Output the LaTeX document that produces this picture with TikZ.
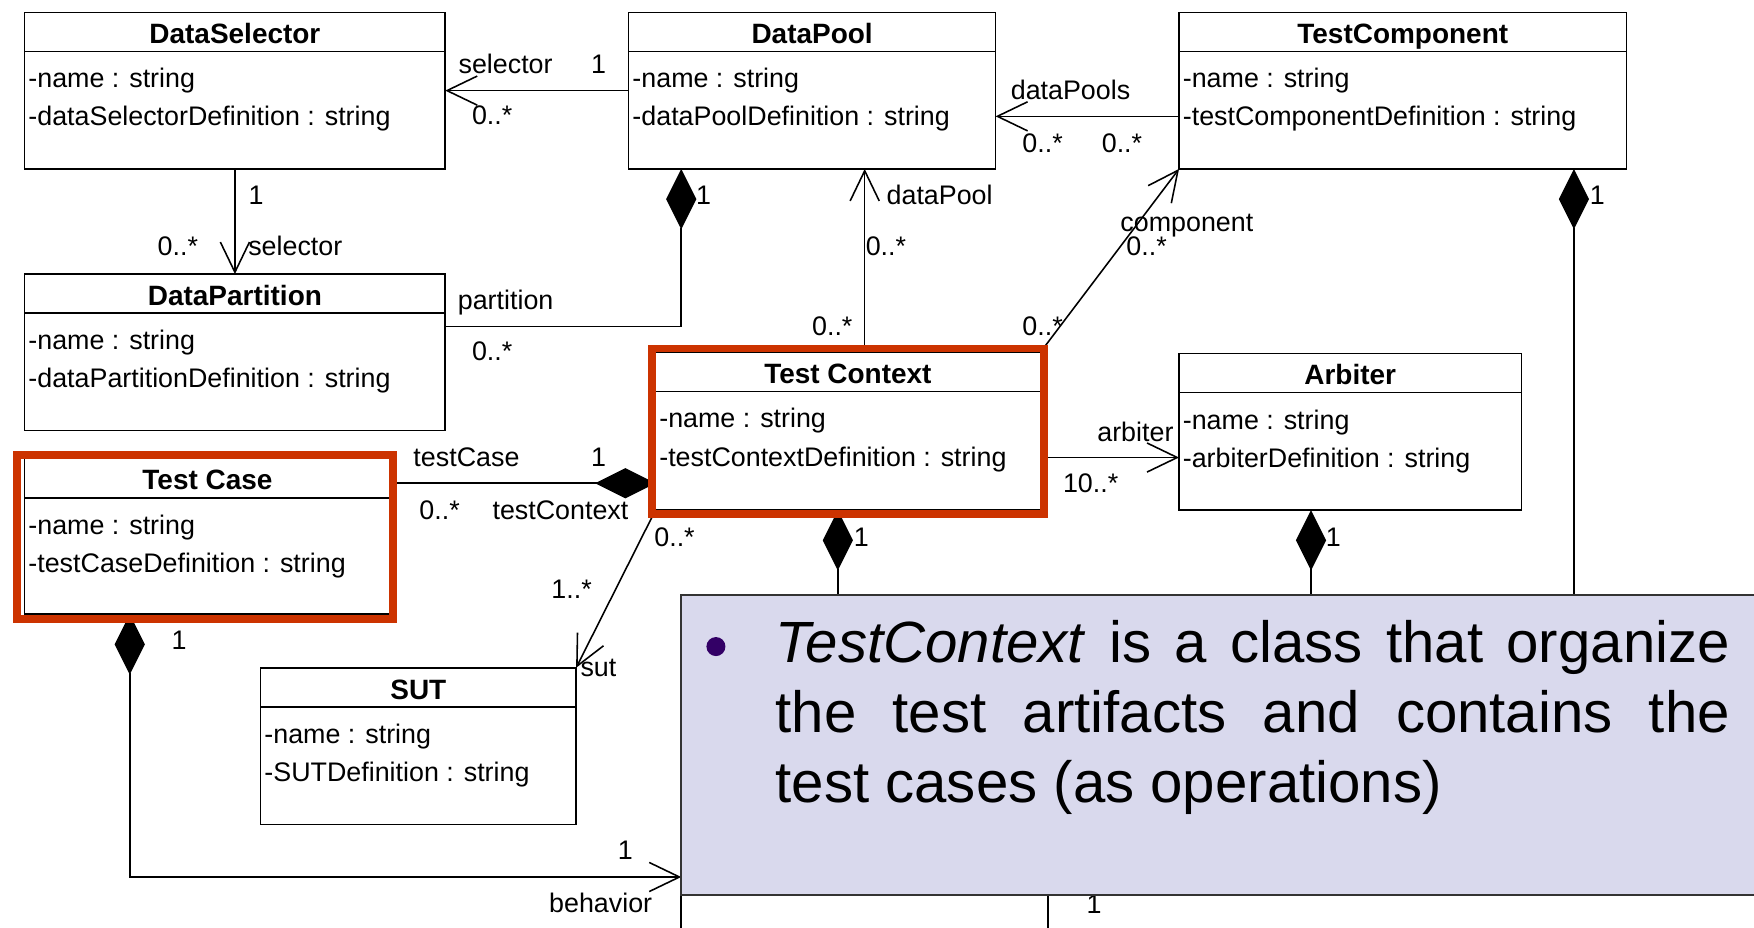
\documentclass[tikz,border=0pt]{standalone}
\usepackage{fontspec}
\setmainfont{Liberation Sans}
\usetikzlibrary{arrows.meta,calc,fit}

\definecolor{framered}{RGB}{204,51,0}
\definecolor{notefill}{RGB}{217,217,237}
\definecolor{bulletpurple}{RGB}{51,0,102}

\tikzset{
  classbox/.style={draw, line width=0.7pt, inner sep=0pt, outer sep=0pt, fill=white},
  classline/.style={line width=0.7pt},
  classtitle/.style={font=\bfseries\fontsize{12.5}{14}\selectfont, inner sep=0pt, text height=9pt, text depth=0pt},
  classattr/.style={font=\fontsize{12}{14}\selectfont, anchor=west, inner sep=0pt, text height=8.6pt, text depth=0pt},
  mult/.style={font=\fontsize{12}{14}\selectfont, inner sep=0pt, text height=8.6pt, text depth=0pt},
  assoc/.style={draw, line width=0.7pt},
  navi/.style={-{Straight Barb[length=13.5pt,width=13pt]}},
  compo/.style={{Diamond[length=27pt,width=13.5pt]}-},
  componavi/.style={{Diamond[length=27pt,width=13.5pt]}-{Straight Barb[length=13.5pt,width=13pt]}},
  redframe/.style={draw=framered, line width=3.5pt},
  notebox/.style={draw=black!80, line width=0.7pt, fill=notefill, inner sep=0pt, outer sep=0pt},
  notetext/.style={text width=426.5pt, align=justify, inner sep=0pt, font=\fontsize{26}{31.25}\selectfont},
}

% UML class: name, left, top, right, bottom, title, first attribute, second attribute
\newcommand{\umlclass}[8]{%
  \node[classbox, fit={(#2,#3) (#4,#5)}] (#1) {};
  \draw[classline] ($(#1.north west)+(0,35)$) -- ($(#1.north east)+(0,35)$);
  \node[classtitle] (#1-title) at ($(#1.north)+(0,19)$) {#6};
  \node[classattr] (#1-a) at ($(#1.north west)+(3,59)$) {#7};
  \node[classattr] (#1-b) at ($(#1.north west)+(3,93)$) {#8};
}

\begin{document}
\begin{tikzpicture}[x=0.5pt, y=-0.5pt]
  \useasboundingbox (0,0) rectangle (1568,829);
  \fill[white] (0,0) rectangle (1568,829);

  % classes
  \umlclass{ds}{22}{11}{398}{151}{DataSelector}{-name : string}{-dataSelectorDefinition : string}
  \umlclass{dp}{562}{11}{890}{151}{DataPool}{-name : string}{-dataPoolDefinition : string}
  \umlclass{tcomp}{1054}{11}{1454}{151}{TestComponent}{-name : string}{-testComponentDefinition : string}
  \umlclass{dpart}{22}{245}{398}{385}{DataPartition}{-name : string}{-dataPartitionDefinition : string}
  \umlclass{tcx}{586}{315}{930}{456}{Test Context}{-name : string}{-testContextDefinition : string}
  \umlclass{arb}{1054}{316}{1360}{456}{Arbiter}{-name : string}{-arbiterDefinition : string}
  \umlclass{tcase}{22}{410}{349}{549}{Test Case}{-name : string}{-testCaseDefinition : string}
  \umlclass{sut}{233}{597}{515}{737}{SUT}{-name : string}{-SUTDefinition : string}
  \node[classbox, fit={(609,560) (937,900)}] (bh) {};

  % free ends of the compositions that run under the note
  \coordinate (tcompdown) at (1407,600);
  \coordinate (arbdown) at (1172,600);

  % associations
  \draw[assoc, navi] (dp.west) -- (ds.east);
  \draw[assoc, navi] (ds.south) -- (dpart.north);
  \draw[assoc, compo] ($(dp.south west)+(47,0)$) |- ($(dpart.north east)+(0,47)$);
  \draw[assoc, navi] ($(tcomp.north west)+(0,93)$) -- ($(dp.north east)+(0,93)$);
  \draw[assoc, navi] ($(tcx.north west)+(187,0)$) -- ($(dp.south west)+(211,0)$);
  \draw[assoc, navi] (tcx.north east) -- (tcomp.south west);
  \draw[assoc, compo] ($(tcomp.south west)+(353,0)$) -- (tcompdown);
  \draw[assoc, navi] ($(tcx.north east)+(0,94)$) -- ($(arb.north west)+(0,93)$);
  \draw[assoc, compo] ($(arb.south west)+(118,0)$) -- (arbdown);
  \draw[assoc, compo] ($(tcx.south west)+(163,0)$) -- ($(bh.north west)+(140,0)$);
  \draw[assoc, compo] ($(tcx.north west)+(0,117)$) -- ($(tcase.north east)+(0,22)$);
  \draw[assoc, navi] (tcx.south west) -- (sut.north east);
  \draw[assoc, componavi] ($(tcase.south west)+(94,0)$) |- ($(bh.north west)+(0,224)$);

  % highlight frames
  \draw[redframe] ($(tcx.north west)+(-3.5,-3.5)$) rectangle ($(tcx.south east)+(3.5,3.5)$);
  \draw[redframe] ($(tcase.north west)+(-6.5,-3.5)$) rectangle ($(tcase.south east)+(2.5,4.5)$);

  % role names and multiplicities
  \node[mult] (m1) at (452,57) {selector};
  \node[mult] (m2) at (535,57) {1};
  \node[mult] (m3) at (440,103) {0..*};
  \node[mult] (m4) at (229,174) {1};
  \node[mult] (m5) at (159,220) {0..*};
  \node[mult] (m6) at (264,220) {selector};
  \node[mult] (m7) at (452,268) {partition};
  \node[mult] (m8) at (440,314) {0..*};
  \node[mult] (m9) at (629,174) {1};
  \node[mult] (m10) at (957,80) {dataPools};
  \node[mult] (m11) at (932,128) {0..*};
  \node[mult] (m12) at (1003,128) {0..*};
  \node[mult] (m13) at (840,174) {dataPool};
  \node[mult] (m14) at (792,220) {0..*};
  \node[mult] (m15) at (744,291) {0..*};
  \node[mult] (m16) at (1061,198) {component};
  \node[mult] (m17) at (1025,220) {0..*};
  \node[mult] (m18) at (932,291) {0..*};
  \node[mult] (m19) at (1428,174) {1};
  \node[mult] (m20) at (1015,386) {arbiter};
  \node[mult] (m21) at (975,432) {10..*};
  \node[mult] (m22) at (1192,480) {1};
  \node[mult] (m23) at (770,480) {1};
  \node[mult] (m24) at (417,408) {testCase};
  \node[mult] (m25) at (535,408) {1};
  \node[mult] (m26) at (393,456) {0..*};
  \node[mult] (m27) at (501,456) {testContext};
  \node[mult] (m28) at (603,480) {0..*};
  \node[mult] (m29) at (511,526) {1..*};
  \node[mult] (m30) at (535,596) {sut};
  \node[mult] (m31) at (160,572) {1};
  \node[mult] (m32) at (559,760) {1};
  \node[mult] (m33) at (537,807) {behavior};
  \node[mult] (m34) at (978,808) {1};

  % note laid over the lower part of the diagram
  \node[notebox, fit={(609,532) (1590,800)}] (note) {};
  \node[circle, fill=bulletpurple, inner sep=0pt, minimum size=8.5pt] (bullet) at (640,578) {};
  \node[notetext, anchor=base west] (notetxt) at (693,592)
    {\tolerance=10000 \textit{TestContext} is a class that organize\linebreak
     the test artifacts and contains the\linebreak
     test cases (as operations)};
\end{tikzpicture}
\end{document}
